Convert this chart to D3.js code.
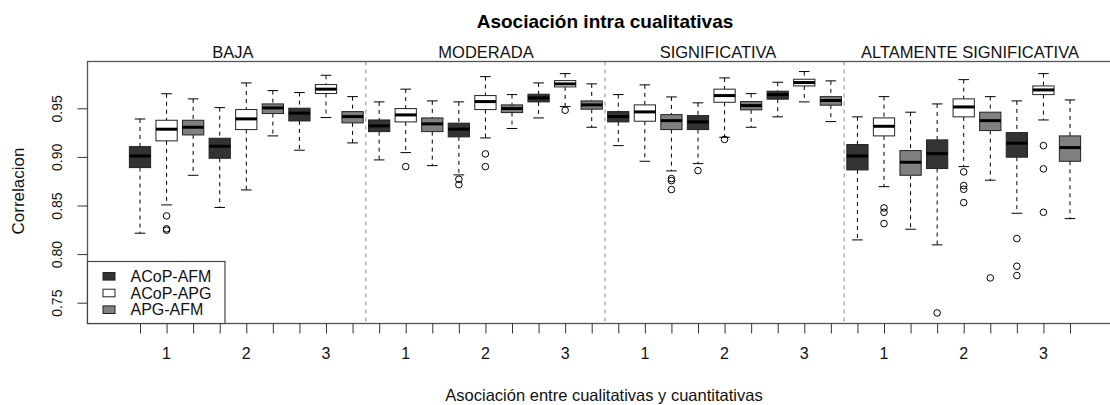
<!DOCTYPE html>
<html>
<head>
<meta charset="utf-8">
<script src="https://cdn.jsdelivr.net/npm/d3@7"></script>
<style>
  html, body { margin: 0; padding: 0; background: #fff; }
  svg { display: block; font-family: "Liberation Sans", Arial, sans-serif; }
</style>
</head>
<body>
<svg id="chart" width="1110" height="405"></svg>
<script>
// ---------------- data ----------------
const levels = ["BAJA", "MODERADA", "SIGNIFICATIVA", "ALTAMENTE SIGNIFICATIVA"];
const groups = ["1", "2", "3"];
const series = ["ACoP-AFM", "ACoP-APG", "APG-AFM"];
const yTicks = [0.75, 0.80, 0.85, 0.90, 0.95];

// five-number summaries [lower whisker, Q1, median, Q3, upper whisker]
// order: level (BAJA..ALTAMENTE) x group (1,2,3)
const statsACoP_AFM = [
  [0.8215, 0.8890, 0.9010, 0.9106, 0.9390], [0.8480, 0.8986, 0.9110, 0.9192, 0.9507], [0.9069, 0.9370, 0.9450, 0.9501, 0.9662],
  [0.8969, 0.9260, 0.9319, 0.9380, 0.9566], [0.8815, 0.9206, 0.9285, 0.9347, 0.9566], [0.9401, 0.9566, 0.9607, 0.9645, 0.9761],
  [0.9116, 0.9360, 0.9415, 0.9466, 0.9641], [0.8931, 0.9281, 0.9360, 0.9425, 0.9556], [0.9412, 0.9594, 0.9641, 0.9676, 0.9768],
  [0.8146, 0.8866, 0.9010, 0.9127, 0.9412], [0.8095, 0.8880, 0.9034, 0.9175, 0.9545], [0.8420, 0.8997, 0.9141, 0.9250, 0.9576]
];
const statsACoP_APG = [
  [0.8506, 0.9165, 0.9285, 0.9377, 0.9650], [0.8660, 0.9281, 0.9391, 0.9487, 0.9761], [0.9405, 0.9652, 0.9697, 0.9744, 0.9840],
  [0.9044, 0.9360, 0.9432, 0.9497, 0.9697], [0.9195, 0.9487, 0.9569, 0.9631, 0.9826], [0.9518, 0.9720, 0.9751, 0.9785, 0.9857],
  [0.8955, 0.9367, 0.9463, 0.9535, 0.9741], [0.9202, 0.9562, 0.9631, 0.9697, 0.9813], [0.9566, 0.9730, 0.9765, 0.9799, 0.9878],
  [0.8694, 0.9216, 0.9315, 0.9401, 0.9620], [0.8900, 0.9412, 0.9514, 0.9597, 0.9795], [0.9380, 0.9641, 0.9689, 0.9730, 0.9857]
];
const statsAPG_AFM = [
  [0.8811, 0.9226, 0.9305, 0.9377, 0.9597], [0.9216, 0.9446, 0.9504, 0.9545, 0.9682], [0.9144, 0.9350, 0.9415, 0.9466, 0.9620],
  [0.8910, 0.9260, 0.9340, 0.9401, 0.9576], [0.9292, 0.9456, 0.9497, 0.9535, 0.9641], [0.9305, 0.9491, 0.9535, 0.9576, 0.9751],
  [0.8856, 0.9281, 0.9373, 0.9435, 0.9617], [0.9305, 0.9484, 0.9528, 0.9569, 0.9651], [0.9363, 0.9532, 0.9580, 0.9620, 0.9782],
  [0.8256, 0.8811, 0.8945, 0.9065, 0.9460], [0.8760, 0.9271, 0.9373, 0.9460, 0.9620], [0.8365, 0.8955, 0.9096, 0.9216, 0.9586]
];

// outliers, same order
const outACoP_AFM = [
  [], [], [],
  [], [0.8770, 0.8715], [],
  [], [0.8859], [],
  [], [0.7395], [0.8160, 0.7875, 0.7779]
];
const outACoP_APG = [
  [0.8393, 0.8260, 0.8246], [], [],
  [0.8900], [0.9031, 0.8900], [0.9480],
  [], [0.9180], [],
  [0.8475, 0.8430, 0.8314], [0.8846, 0.8705, 0.8667, 0.8530], [0.9116, 0.8877, 0.8430]
];
const outAPG_AFM = [
  [], [], [],
  [], [], [],
  [0.8777, 0.8756, 0.8664], [], [],
  [], [0.7755], []
];

const seriesFill = ["#333333", "#ffffff", "#808080"];

// ---------------- layout ----------------
const svg = d3.select("#chart");
const plotL = 87.5, plotR = 1119, plotT = 61.5, plotB = 323.5;

const x = d3.scaleLinear().domain([1, 36]).range([140, 1070]);
const y = d3.scaleLinear().domain([0.75, 0.95]).range([302.7, 108.3]);
const unit = x(2) - x(1);
const boxW = 0.8 * unit;
const capW = 0.4 * unit;

// build box table
const statsBySeries = [statsACoP_AFM, statsACoP_APG, statsAPG_AFM];
const outBySeries = [outACoP_AFM, outACoP_APG, outAPG_AFM];
const boxes = [];
levels.forEach((lev, li) => {
  groups.forEach((g, gi) => {
    series.forEach((s, si) => {
      const k = li * 3 + gi;
      const st = statsBySeries[si][k];
      boxes.push({
        pos: li * 9 + gi * 3 + si + 1,
        si, lo: st[0], q1: st[1], med: st[2], q3: st[3], hi: st[4],
        out: outBySeries[si][k]
      });
    });
  });
});

// panel separators
const sepG = svg.append("g");
[9.5, 18.5, 27.5].forEach(p => {
  sepG.append("line")
    .attr("x1", x(p)).attr("x2", x(p))
    .attr("y1", plotT).attr("y2", plotB)
    .attr("stroke", "#8c8c8c").attr("stroke-width", 1)
    .attr("stroke-dasharray", "4,4");
});

// boxes
const bg = svg.append("g");
const bx = bg.selectAll("g.box").data(boxes).enter().append("g").attr("class", "box");

// whiskers (dashed)
bx.append("line")
  .attr("x1", d => x(d.pos)).attr("x2", d => x(d.pos))
  .attr("y1", d => y(d.hi)).attr("y2", d => y(d.q3))
  .attr("stroke", "#000").attr("stroke-dasharray", "4,4");
bx.append("line")
  .attr("x1", d => x(d.pos)).attr("x2", d => x(d.pos))
  .attr("y1", d => y(d.q1)).attr("y2", d => y(d.lo))
  .attr("stroke", "#000").attr("stroke-dasharray", "4,4");
// caps
bx.append("line")
  .attr("x1", d => x(d.pos) - capW / 2).attr("x2", d => x(d.pos) + capW / 2)
  .attr("y1", d => y(d.hi)).attr("y2", d => y(d.hi))
  .attr("stroke", "#000");
bx.append("line")
  .attr("x1", d => x(d.pos) - capW / 2).attr("x2", d => x(d.pos) + capW / 2)
  .attr("y1", d => y(d.lo)).attr("y2", d => y(d.lo))
  .attr("stroke", "#000");
// box rect
bx.append("rect")
  .attr("x", d => x(d.pos) - boxW / 2)
  .attr("y", d => y(d.q3))
  .attr("width", boxW)
  .attr("height", d => y(d.q1) - y(d.q3))
  .attr("fill", d => seriesFill[d.si])
  .attr("stroke", "#222").attr("stroke-width", 1);
// median
bx.append("line")
  .attr("x1", d => x(d.pos) - boxW / 2).attr("x2", d => x(d.pos) + boxW / 2)
  .attr("y1", d => y(d.med)).attr("y2", d => y(d.med))
  .attr("stroke", "#000").attr("stroke-width", 3);
// outliers
bx.each(function (d) {
  d3.select(this).selectAll("circle").data(d.out).enter().append("circle")
    .attr("cx", x(d.pos)).attr("cy", v => y(v)).attr("r", 3.3)
    .attr("fill", "none").attr("stroke", "#000").attr("stroke-width", 1);
});

// plot frame
svg.append("rect")
  .attr("x", plotL).attr("y", plotT)
  .attr("width", plotR - plotL).attr("height", plotB - plotT)
  .attr("fill", "none").attr("stroke", "#555").attr("stroke-width", 1.3);

// x axis ticks
const xAxis = d3.axisBottom(x)
  .tickValues(d3.range(1, 37))
  .tickSize(10)
  .tickFormat("");
const xg = svg.append("g").attr("transform", `translate(0,${plotB})`).call(xAxis);
xg.select(".domain").remove();
xg.selectAll(".tick line").attr("stroke", "#333");

// group labels 1,2,3 under middle box of each triple
const lblPos = [];
levels.forEach((lev, li) => groups.forEach((g, gi) => lblPos.push({ p: li * 9 + gi * 3 + 2, t: g })));
svg.append("g").selectAll("text").data(lblPos).enter().append("text")
  .attr("x", d => x(d.p)).attr("y", 359)
  .attr("text-anchor", "middle").attr("font-size", 16).attr("fill", "#111")
  .text(d => d.t);

// y axis
const yAxis = d3.axisLeft(y).tickValues(yTicks).tickSize(10).tickFormat(d3.format(".2f"));
const yg = svg.append("g").attr("transform", `translate(${plotL},0)`).call(yAxis);
yg.select(".domain").remove();
yg.selectAll(".tick line").attr("stroke", "#333");
yg.selectAll(".tick text")
  .attr("x", 0).attr("y", 0).attr("dy", 0)
  .attr("text-anchor", "middle")
  .attr("font-size", 14).attr("fill", "#111")
  .attr("font-family", "Liberation Sans, Arial, sans-serif")
  .attr("transform", "rotate(-90) translate(0,-29)")
  .attr("dominant-baseline", "middle");

// panel headers
const headerX = [233, 486, 718, 970];
svg.append("g").selectAll("text").data(levels).enter().append("text")
  .attr("x", (d, i) => headerX[i]).attr("y", 58)
  .attr("text-anchor", "middle").attr("font-size", 16.5).attr("fill", "#111")
  .text(d => d);

// title
svg.append("text")
  .attr("x", 605).attr("y", 28)
  .attr("text-anchor", "middle").attr("font-size", 19).attr("font-weight", "bold")
  .attr("fill", "#000")
  .text("Asociación intra cualitativas");

// axis titles
svg.append("text")
  .attr("x", 604).attr("y", 401)
  .attr("text-anchor", "middle").attr("font-size", 16.5).attr("fill", "#111")
  .text("Asociación entre cualitativas y cuantitativas");
svg.append("text")
  .attr("transform", "translate(24,191) rotate(-90)")
  .attr("text-anchor", "middle").attr("font-size", 17).attr("fill", "#111")
  .text("Correlacion");

// legend
const lg = svg.append("g");
lg.append("rect")
  .attr("x", plotL).attr("y", 261.5).attr("width", 225 - plotL).attr("height", plotB - 261.5)
  .attr("fill", "#fff").attr("stroke", "#444").attr("stroke-width", 1.2);
series.forEach((s, i) => {
  const cy = 276.3 + i * 16.7;
  lg.append("rect")
    .attr("x", 103).attr("y", cy - 3.8).attr("width", 12).attr("height", 7.6)
    .attr("fill", seriesFill[i]).attr("stroke", "#222").attr("stroke-width", 1);
  lg.append("text")
    .attr("x", 130.5).attr("y", cy + 5.5)
    .attr("font-size", 16).attr("fill", "#111")
    .text(s);
});
</script>
</body>
</html>
